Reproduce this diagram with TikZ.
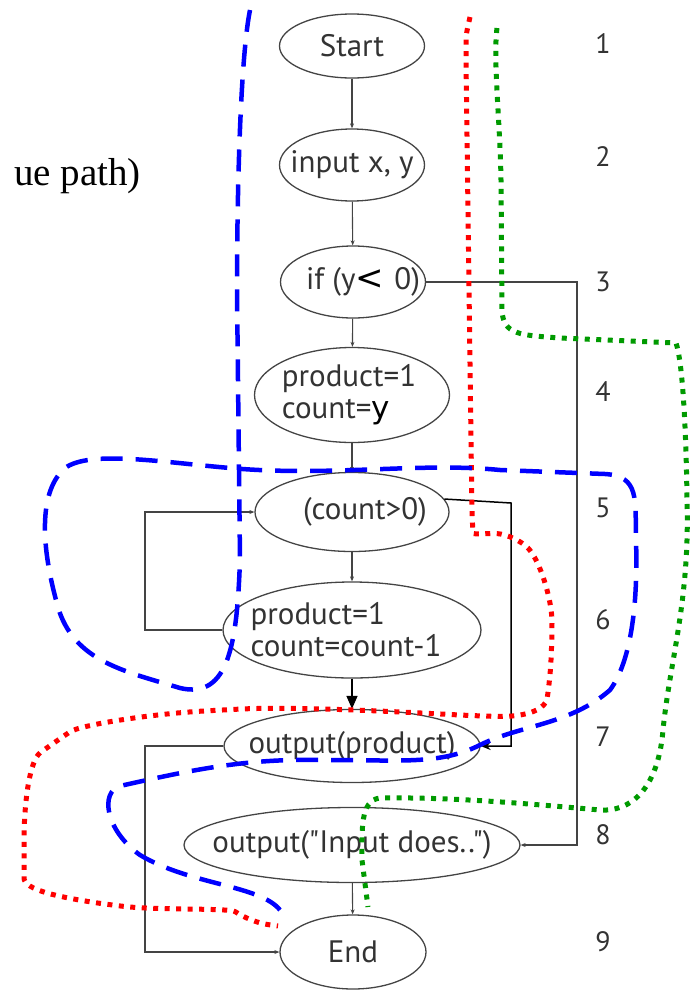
\documentclass[tikz,border=0pt]{standalone}
\usepackage{fontspec}
\setmainfont{Liberation Serif}
\newfontfamily\nf{PT Sans}
\usetikzlibrary{shapes.geometric,arrows.meta}
\definecolor{ink}{HTML}{333333}
\definecolor{edge}{HTML}{444444}
\definecolor{grn}{HTML}{009A00}
\begin{document}
\begin{tikzpicture}[x=1pt,y=-1pt,
  nd/.style={ellipse, draw=edge, line width=1.3pt, inner sep=0pt},
  tx/.style={text=ink, inner sep=0pt, align=left,
    font=\nf\fontsize{31}{32}\selectfont},
  ga/.style={draw=edge, line width=1.1pt, -{Stealth[length=5pt,width=4pt]}},
  ba/.style={draw=black, line width=1.5pt},
  num/.style={text=ink, font=\nf\fontsize{28}{30}\selectfont},
  bluepath/.style={draw=blue, line width=4.5pt, dash pattern=on 22pt off 13pt},
  redpath/.style={draw=red, line width=5pt, dash pattern=on 5pt off 6.5pt},
  greenpath/.style={draw=grn, line width=5pt, dash pattern=on 5pt off 6.5pt}]
\useasboundingbox (0,0) rectangle (696,991);

% nodes (fixed-size ellipses, text as centred labels)
\node[nd, minimum width=145pt, minimum height=64pt,
  label={[tx, name=startt]center:Start}] (start) at (352,46) {};
\node[nd, minimum width=145pt, minimum height=72pt,
  label={[tx, name=inputt]center:input x, y}] (input) at (352,165) {};
\node[nd, minimum width=145pt, minimum height=72pt,
  label={[tx, name=ift, xshift=10pt]center:{if (y{\color{black}\fontspec{DejaVu Sans}\fontsize{34}{34}\selectfont<}\,\,0)}}] (if) at (353,282) {};
\node[nd, minimum width=195pt, minimum height=95pt,
  label={[tx, name=initt, xshift=-3pt]center:{product=1\\count={\color{black}\fontspec{DejaVu Sans}y}}}] (init) at (352,395) {};
\node[nd, minimum width=194pt, minimum height=79pt,
  label={[tx, name=cntt, xshift=13pt]center:(count>0)}] (cnt) at (352,512) {};
\node[nd, minimum width=258pt, minimum height=96pt,
  label={[tx, name=bodyt, xshift=-6pt]center:{product=1\\count=count-1}}] (body) at (352,630) {};
\node[nd, minimum width=256pt, minimum height=73pt,
  label={[tx, name=outpt]center:output(product)}] (outp) at (352,746) {};
\node[nd, minimum width=336pt, minimum height=75pt,
  label={[tx, name=outit]center:output("Input does..")}] (outi) at (352,845) {};
\node[nd, minimum width=146pt, minimum height=74pt,
  label={[tx, name=endt]center:End}] (end) at (353,952) {};

% line numbers
\node[num] (n1) at (603,44) {1};
\node[num] (n2) at (603,157) {2};
\node[num] (n3) at (603,282) {3};
\node[num] (n4) at (603,392) {4};
\node[num] (n5) at (603,508) {5};
\node[num] (n6) at (603,620) {6};
\node[num] (n7) at (603,737) {7};
\node[num] (n8) at (603,835) {8};
\node[num] (n9) at (603,942) {9};

% cut-off title
\node[anchor=east, font=\fontsize{39}{41}\selectfont, inner sep=0pt] (title) at (141,176) {ue path)};

% flow connectors
\draw[ga] (start) -- (input);
\draw[ga] (input) -- (if);
\draw[ga] (if) -- (init);
\draw[ga] (init) -- (cnt);
\draw[ga] (cnt) -- (body);
\draw[ba, -{Triangle[length=13pt,width=11pt]}] (body) -- (outp);
\draw[ga] (outi) -- (end);

\coordinate (c3) at (577,282);
\draw[ga] (if.east) -- (c3) |- (outi.east);

\coordinate (c5) at (511,503);
\draw[ba, -{Stealth[length=10pt,width=8pt]}] (cnt.8) -- (c5) |- (outp.east);

\coordinate (c6) at (145,630);
\draw[ga] (body.west) -- (c6) |- (cnt.west);

\coordinate (c7) at (145,746);
\draw[ga] (outp.west) -- (c7) |- (end.west);

% red dotted path
\draw[redpath, rounded corners=18pt] (470,17) .. controls (466,35) .. (466,60)
  -- (472,515) .. controls (473,535) and (490,533) .. (515,535)
  .. controls (540,560) and (552,600) .. (552,640)
  -- (550,680) .. controls (545,712) and (520,717) .. (480,716)
  .. controls (420,713) and (300,706) .. (222,710)
  .. controls (150,714) and (80,725) .. (55,742)
  .. controls (30,760) and (24,800) .. (24,860)
  .. controls (24,890) and (60,897) .. (110,905)
  .. controls (160,910) and (230,908) .. (250,922) -- (278,926);

% green dotted path
\draw[greenpath] (497,28) .. controls (493,60) and (500,120) .. (501,180)
  -- (502,310) .. controls (503,335) and (520,335) .. (560,338)
  -- (676,343) .. controls (682,360) and (686,420) .. (687,500)
  .. controls (690,600) and (670,660) .. (663,730)
  .. controls (658,790) and (630,812) .. (600,810)
  .. controls (520,803) and (450,797) .. (380,798)
  .. controls (360,800) and (362,830) .. (362,860) -- (368,907);

% blue dashed path
\draw[bluepath] (250,10) .. controls (240,60) and (237,200) .. (237,290)
  -- (240,560) .. controls (237,640) and (230,700) .. (180,688)
  .. controls (120,670) and (70,660) .. (56,600)
  .. controls (40,540) and (40,490) .. (65,468)
  .. controls (90,450) and (160,462) .. (230,468)
  .. controls (330,477) and (420,462) .. (500,470)
  -- (605,474) .. controls (640,476) and (635,500) .. (636,540)
  .. controls (638,600) and (632,660) .. (610,690)
  .. controls (570,725) and (520,725) .. (480,745)
  .. controls (440,765) and (400,760) .. (330,760)
  .. controls (250,758) and (200,768) .. (120,786)
  .. controls (100,792) and (105,830) .. (140,855)
  .. controls (190,885) and (260,885) .. (280,910);
\end{tikzpicture}
\end{document}
